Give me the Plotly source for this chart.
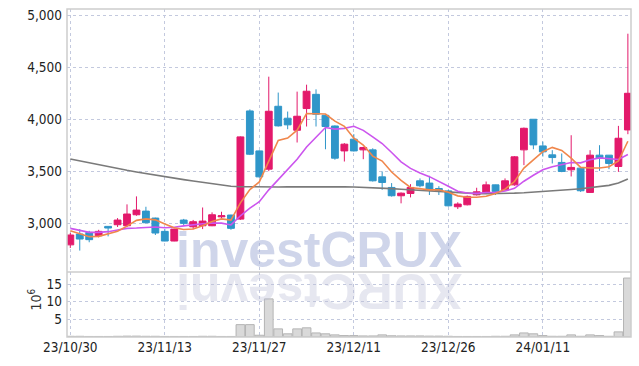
import plotly.graph_objects as go

dates = ["2023-10-30","2023-10-31","2023-11-01","2023-11-02","2023-11-03",
         "2023-11-06","2023-11-07","2023-11-08","2023-11-09","2023-11-10",
         "2023-11-13","2023-11-14","2023-11-15","2023-11-16","2023-11-17",
         "2023-11-20","2023-11-21","2023-11-22","2023-11-23","2023-11-24",
         "2023-11-27","2023-11-28","2023-11-29","2023-11-30","2023-12-01",
         "2023-12-04","2023-12-05","2023-12-06","2023-12-07","2023-12-08",
         "2023-12-11","2023-12-12","2023-12-13","2023-12-14","2023-12-15",
         "2023-12-18","2023-12-19","2023-12-20","2023-12-21","2023-12-22",
         "2023-12-26","2023-12-27","2023-12-28","2024-01-02","2024-01-03",
         "2024-01-04","2024-01-05","2024-01-08","2024-01-09","2024-01-10",
         "2024-01-11","2024-01-12","2024-01-15","2024-01-16","2024-01-17",
         "2024-01-18","2024-01-19","2024-01-22","2024-01-23","2024-01-24"]

opens = [2790,2894,2910,2878,2968,2984,2974,3080,3115,3048,
         2920,2827,3029,2964,2974,2974,3060,3077,3038,4080,
         3695,3519,4125,4010,3894,4103,4240,4038,3935,3695,
         3808,3705,3705,3445,3343,3263,3285,3407,3385,3333,
         3310,3157,3176,3272,3295,3368,3320,3368,3705,4000,
         3743,3657,3584,3513,3529,3295,3654,3654,3545,3897]
highs = [2905,2942,2925,2935,2970,3048,3180,3257,3157,3052,
         2942,2945,3040,3030,3150,3103,3109,3080,3835,4095,
         3700,4410,4257,4074,4266,4333,4288,4040,3940,3770,
         3856,3735,3720,3497,3385,3295,3375,3430,3455,3355,
         3320,3200,3265,3340,3400,3370,3430,3645,3920,4000,
         3785,3702,3670,3846,3535,3702,3750,3654,3936,4824]
lows = [2760,2735,2815,2862,2872,2962,2962,3070,3000,2885,
        2825,2825,2975,2940,2942,2970,3048,2935,3030,3655,
        3440,3500,3930,3904,3776,3930,3930,3711,3610,3593,
        3690,3615,3400,3320,3255,3190,3247,3345,3270,3270,
        3160,3135,3170,3265,3285,3270,3310,3360,3558,3711,
        3641,3574,3490,3449,3300,3290,3503,3519,3493,3856]
closes = [2885,2846,2840,2920,2952,3029,3087,3125,3003,2904,
          2827,2942,2997,3013,3019,3080,3070,2949,3830,3663,
          3445,4077,3936,3946,4029,4270,4048,3930,3625,3760,
          3695,3728,3407,3391,3263,3288,3343,3359,3317,3305,
          3166,3183,3257,3301,3368,3305,3407,3638,3913,3753,
          3686,3631,3497,3536,3311,3654,3628,3574,3817,4250]

ma_short = [2926,2901,2869,2872,2894,2922,2970,3026,3040,3031,
            2990,2955,2938,2943,2975,3016,3040,3029,3195,3322,
            3396,3596,3795,3818,3895,4055,4050,4050,3982,3932,
            3818,3752,3645,3597,3492,3411,3343,3333,3320,3321,
            3296,3262,3248,3248,3258,3284,3327,3400,3530,3609,
            3687,3729,3699,3626,3536,3530,3530,3543,3598,3788]
ma_mid = [2949,2926,2910,2910,2917,2933,2949,2952,2960,2962,
          2955,2960,2973,2985,2993,3000,2999,2982,3070,3143,
          3205,3320,3418,3512,3615,3733,3828,3920,3905,3912,
          3932,3893,3830,3766,3680,3590,3527,3482,3447,3404,
          3355,3306,3290,3286,3295,3296,3308,3334,3403,3460,
          3513,3543,3563,3583,3580,3609,3628,3620,3612,3660]
ma_long = [3617,3598,3580,3562,3543,3525,3508,3492,3476,3460,
           3445,3431,3418,3405,3392,3380,3366,3355,3350,3348,
           3347,3347,3348,3349,3350,3351,3351,3351,3350,3349,
           3347,3345,3342,3337,3332,3326,3320,3314,3308,3302,
           3296,3291,3287,3284,3283,3283,3285,3288,3292,3297,
           3303,3309,3316,3323,3331,3340,3350,3363,3385,3425]

volume = [0.2,0.2,0.15,0.15,0.15,0.2,0.25,0.25,0.2,0.2,
          0.15,0.15,0.15,0.15,0.2,0.2,0.15,0.15,3.5,3.5,
          0.5,10.8,2.3,0.9,2.3,2.6,1.15,0.9,0.6,0.4,
          0.4,0.3,0.3,0.6,0.35,0.3,0.3,0.3,0.25,0.25,
          0.2,0.15,0.15,0.15,0.15,0.2,0.2,0.6,1.15,0.9,
          0.4,0.2,0.2,0.6,0.2,0.6,0.4,0.2,1.45,16.7]

tick_dates = ["2023-10-30","2023-11-13","2023-11-27","2023-12-11","2023-12-26","2024-01-11"]
tick_labels = ["23/10/30","23/11/13","23/11/27","23/12/11","23/12/26","24/01/11"]
price_ticks = [3000,3500,4000,4500,5000]
vol_ticks = [5,10,15]

UP = "#e3196b"
DOWN = "#2f96c9"
FONT = "DejaVu Sans Condensed, Liberation Sans Narrow, Liberation Sans, sans-serif"
GRID = "#c3c9de"

fig = go.Figure()
fig.add_trace(go.Bar(x=dates, y=volume, xaxis="x", yaxis="y2",
                     marker=dict(color="#d9d9d9", line=dict(color="#b4b4b4", width=1)),
                     showlegend=False, hoverinfo="skip"))
fig.add_trace(go.Scatter(x=dates, y=ma_long, mode="lines",
                         line=dict(color="#7a7a7a", width=1.6), showlegend=False))
fig.add_trace(go.Scatter(x=dates, y=ma_mid, mode="lines",
                         line=dict(color="#cc55ee", width=1.6), showlegend=False))
fig.add_trace(go.Scatter(x=dates, y=ma_short, mode="lines",
                         line=dict(color="#f0874c", width=1.6), showlegend=False))
fig.add_trace(go.Candlestick(x=dates, open=opens, high=highs, low=lows, close=closes,
                             increasing=dict(line=dict(color=UP, width=1), fillcolor=UP),
                             decreasing=dict(line=dict(color=DOWN, width=1), fillcolor=DOWN),
                             whiskerwidth=0, showlegend=False))

fig.update_layout(
    width=639, height=366,
    margin=dict(l=67, r=8, t=9, b=29),
    paper_bgcolor="white", plot_bgcolor="white",
    font=dict(family=FONT, size=13.5, color="#222222"),
    boxgap=0.15, boxgroupgap=0.15, bargap=0.08,
    xaxis=dict(type="category", range=[-0.35, 59.33], anchor="y2",
               rangeslider=dict(visible=False), automargin=False,
               tickvals=tick_dates, ticktext=tick_labels,
               tickfont=dict(size=13.5, family=FONT, color="#222222"),
               showgrid=True, gridcolor=GRID, griddash="dot", gridwidth=1,
               ticks="", showline=False, zeroline=False),
    yaxis=dict(domain=[0.198, 1], range=[2528, 5062], anchor="x", automargin=False,
               tickvals=price_ticks, tickformat=",",
               showgrid=True, gridcolor=GRID, griddash="dot", gridwidth=1,
               ticks="", zeroline=False, ticklabelstandoff=4),
    yaxis2=dict(domain=[0, 0.198], range=[0, 18.4], anchor="x", automargin=False,
                tickvals=vol_ticks,
                showgrid=True, gridcolor=GRID, griddash="dot", gridwidth=1,
                ticks="", zeroline=False, ticklabelstandoff=4),
    shapes=[
        dict(type="rect", xref="paper", yref="paper", x0=0, x1=1, y0=0, y1=1,
             line=dict(color="#cdcdcd", width=1.5), layer="above"),
        dict(type="line", xref="paper", yref="paper", x0=0, x1=1, y0=0.198, y1=0.198,
             line=dict(color="#cdcdcd", width=1.5), layer="above"),
    ],
    annotations=[
        dict(text="<b>investCRUX</b>", xref="paper", yref="paper", x=0.447, y=0.266,
             xanchor="center", yanchor="middle", showarrow=False, borderpad=0,
             font=dict(family="Liberation Sans, Arial, sans-serif", size=50,
                       color="rgba(160,172,214,0.5)")),
        dict(text="<b>XURCtsevni</b>", xref="paper", yref="paper", x=0.447, y=0.142,
             xanchor="center", yanchor="middle", showarrow=False, textangle=180, borderpad=0,
             font=dict(family="Liberation Sans, Arial, sans-serif", size=50,
                       color="rgba(190,192,215,0.38)")),
        dict(text="10<sup>6</sup>", xref="paper", yref="paper", x=-0.057, y=0.114,
             xanchor="center", yanchor="middle", showarrow=False, textangle=-90,
             font=dict(family=FONT, size=14, color="#333333")),
    ],
)

fig.write_html("out.html", config={"displayModeBar": False},
               post_script="document.body.style.margin='0';")
